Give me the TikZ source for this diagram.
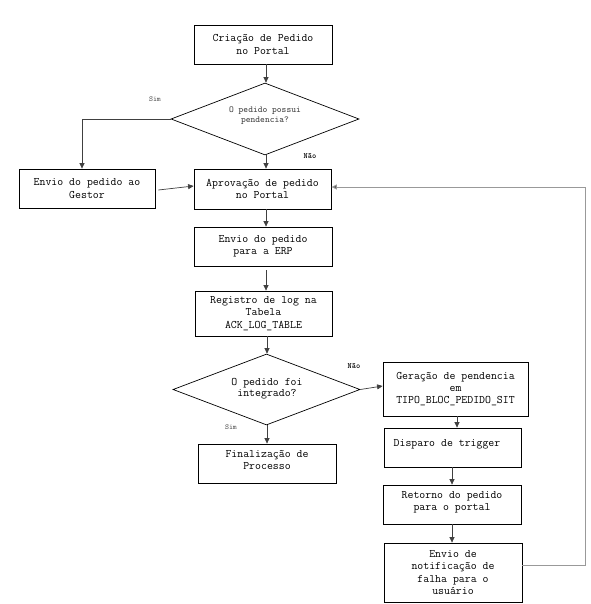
\documentclass[tikz,border=0pt]{standalone}
\usepackage{fontspec}
\usetikzlibrary{shapes.geometric,arrows.meta}
\begin{document}
\begin{tikzpicture}[x=1pt,y=-1pt,
  box/.style={draw=black,line width=0.8pt,rectangle,inner sep=0pt,align=center,
    font=\ttfamily\fontsize{11.5}{12.4}\selectfont},
  dec/.style={draw=black,line width=0.7pt,diamond,inner sep=0pt},
  dtext/.style={align=center,inner sep=0pt,font=\ttfamily\fontsize{11.5}{11.5}\selectfont},
  ptext/.style={align=center,inner sep=0pt,text=black!75,font=\ttfamily\fontsize{9.1}{10}\selectfont},
  lbl/.style={inner sep=0pt,text=black!70,font=\ttfamily\fontsize{7.5}{8}\selectfont},
  lblb/.style={inner sep=0pt,text=black,font=\ttfamily\bfseries\fontsize{8}{8}\selectfont},
  conn/.style={draw=black!75,line width=0.7pt,-{Triangle[length=5.5pt,width=5pt]}},
  loop/.style={draw=black!40,line width=1pt,-{Triangle[length=5.5pt,width=5pt,fill=black!80]}}]
\useasboundingbox[fill=white] (0,0) rectangle (590,604);

\node[box,minimum width=138pt,minimum height=39pt] (b1) at (263,44.5) {Criação de Pedido\\no Portal};
\node[dec,minimum width=188pt,minimum height=72pt] (d1) at (265,119) {};
\node[ptext] (d1t) at (265,115.5) {O pedido possui\\pendencia?};
\node[box,minimum width=136pt,minimum height=39pt] (gest) at (87,188.5) {Envio do pedido ao\\Gestor};
\node[box,minimum width=137pt,minimum height=40pt] (aprov) at (262.5,189) {Aprovação de pedido\\no Portal};
\node[box,minimum width=138pt,minimum height=39pt] (erp) at (263,246.5) {Envio do pedido\\para a ERP};
\node[box,minimum width=137pt,minimum height=45pt] (reg) at (263.5,313.5) {Registro de log na\\Tabela\\ACK\_LOG\_TABLE};
\node[dec,minimum width=187pt,minimum height=71pt] (d2) at (266.5,389.5) {};
\node[dtext] (d2t) at (267,388.5) {O pedido foi\\integrado?};
\node[box,minimum width=145pt,minimum height=54pt] (ger) at (455.5,389) {Geração de pendencia\\em\\TIPO\_BLOC\_PEDIDO\_SIT};
\node[box,minimum width=138pt,minimum height=39pt] (fin) at (267,463.5) {};
\node[box,draw=none] (fint) at (267,460) {Finalização de\\Processo};
\node[box,minimum width=137pt,minimum height=39pt] (disp) at (452.5,447.5) {};
\node[box,draw=none] (dispt) at (447,444) {Disparo de trigger};
\node[box,minimum width=138pt,minimum height=39pt] (ret) at (452,504.5) {};
\node[box,draw=none] (rett) at (452,502.5) {Retorno do pedido\\para o portal};
\node[box,minimum width=138pt,minimum height=59pt] (notif) at (453,572.5) {Envio de\\notificação de\\falha para o\\usuário};

\node[lbl] (sim1) at (155,99) {Sim};
\node[lblb] (nao1) at (310,156) {Não};
\node[lblb] (nao2) at (354,366) {Não};
\node[lbl] (sim2) at (231,427) {Sim};

\coordinate (ax) at (266,0);
\coordinate (gx) at (82,0);
\coordinate (rx) at (585,0);

\draw[conn] (b1.south -| ax) -- (d1.north -| ax);
\draw[conn] (d1.west) -- (d1.west -| gx) -- (gest.north -| gx);
\draw[conn] (d1.south -| ax) -- (aprov.north -| ax);
\draw[conn] ([xshift=3pt,yshift=-1.5pt]gest.east) -- ([yshift=3pt]aprov.west);
\draw[conn] (aprov.south -| ax) -- (erp.north -| ax);
\draw[conn] ([yshift=-4pt]erp.south -| ax) -- (reg.north -| ax);
\coordinate (ax2) at (267,0);
\draw[conn] (reg.south -| ax2) -- (d2.north -| ax2);
\draw[conn] (d2.east) -- ([yshift=3pt]ger.west);
\draw[conn] (d2.south -| ax2) -- (fin.north -| ax2);
\coordinate (ax3) at (457,0);
\draw[conn] (ger.south -| ax3) -- (disp.north -| ax3);
\coordinate (ax4) at (452,0);
\draw[conn] (disp.south -| ax4) -- (ret.north -| ax4);
\draw[conn] (ret.south -| ax4) -- (notif.north -| ax4);
\draw[loop] ([yshift=7pt]notif.east) -- ([yshift=7pt]notif.east -| rx) -- ([yshift=2pt]aprov.east -| rx) -- ([yshift=2pt]aprov.east);
\end{tikzpicture}
\end{document}
